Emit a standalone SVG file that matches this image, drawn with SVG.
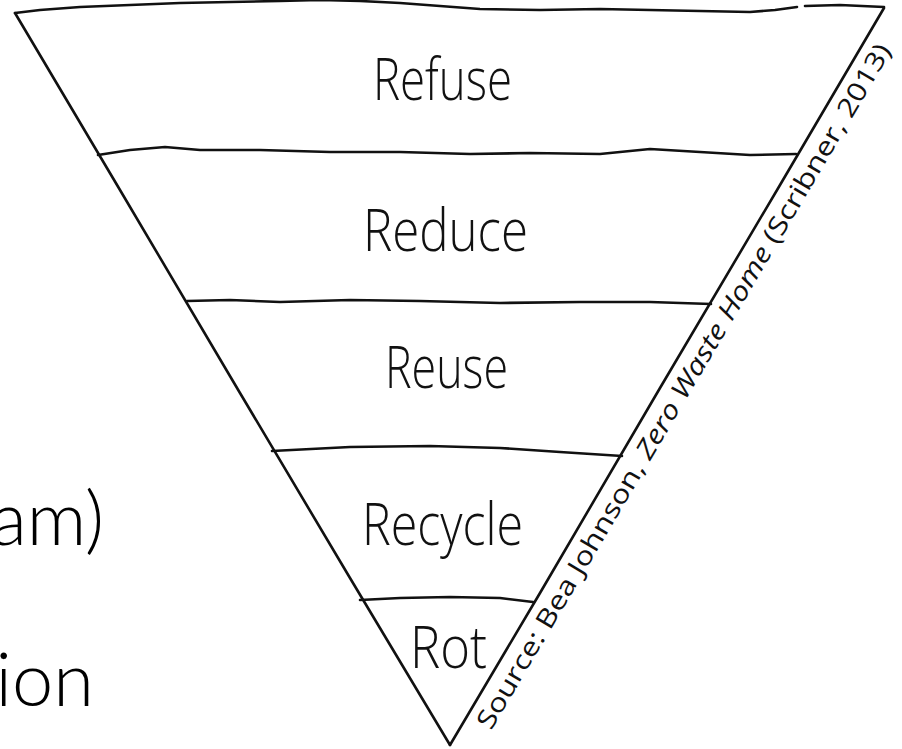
<svg xmlns="http://www.w3.org/2000/svg" width="902" height="749" viewBox="0 0 902 749">
<style>
.ln{fill:none;stroke:#111;stroke-width:2.6;stroke-linejoin:round;stroke-linecap:round}
.lbl{font-family:"Open Sans","Lato","DejaVu Sans",sans-serif;font-weight:300;font-size:59px;fill:#111}
.side{font-family:"Lato","Noto Sans","Liberation Sans",sans-serif;font-weight:300;font-size:74px;fill:#000}
.src{font-family:"Open Sans","Noto Sans","Liberation Sans",sans-serif;font-size:26px;fill:#111}
</style>
<rect width="902" height="749" fill="#fff"/>
<g id="side-text">
<text class="side" x="104" y="545" text-anchor="end">am)</text>
<text class="side" x="94" y="706" text-anchor="end">ion</text>
</g>
<g id="pyramid-outline">
<path class="ln" d="M15,13 L40,10 L80,7 L130,5 L180,3 L230,2 L280,1 L320,0 L360,1 L400,3 L440,6 L480,9 L540,10 L600,9 L650,10 L700,11 L750,12 L775,10 L797,7"/>
<path class="ln" d="M805,6 L840,5 L884,7"/>
<path class="ln" d="M15,13 L120,190 L240,393 L350,578 L450,745"/>
<path class="ln" d="M884,8 L780,185 L660,388 L540,593 L450,745"/>
</g>
<g id="dividers">
<path class="ln" d="M98,155 L130,150 L165,147 L200,150 L260,150 L330,152 L400,152 L470,154 L530,153 L600,154 L650,149 L700,152 L750,155 L796,154"/>
<path class="ln" d="M187,301 L230,300 L280,302 L350,300 L420,301 L500,303 L580,302 L650,302 L711,304"/>
<path class="ln" d="M272,451 L350,447 L430,446 L500,448 L560,452 L622,456"/>
<path class="ln" d="M360,600 L400,598 L450,597 L500,598 L533,602"/>
</g>
<g id="tier-refuse"><text class="lbl" x="373" y="100" textLength="139" lengthAdjust="spacingAndGlyphs">Refuse</text></g>
<g id="tier-reduce"><text class="lbl" x="363" y="251" textLength="165" lengthAdjust="spacingAndGlyphs">Reduce</text></g>
<g id="tier-reuse"><text class="lbl" x="385" y="388" textLength="123" lengthAdjust="spacingAndGlyphs">Reuse</text></g>
<g id="tier-recycle"><text class="lbl" x="362" y="545" textLength="161" lengthAdjust="spacingAndGlyphs">Recycle</text></g>
<g id="tier-rot"><text class="lbl" x="410" y="668" textLength="77" lengthAdjust="spacingAndGlyphs">Rot</text></g>
<g id="source">
<text class="src" transform="translate(491,731) rotate(-59.5)" textLength="790" lengthAdjust="spacingAndGlyphs">Source: Bea Johnson, <tspan font-style="italic">Zero Waste Home</tspan> (Scribner, 2013)</text>
</g>
</svg>
